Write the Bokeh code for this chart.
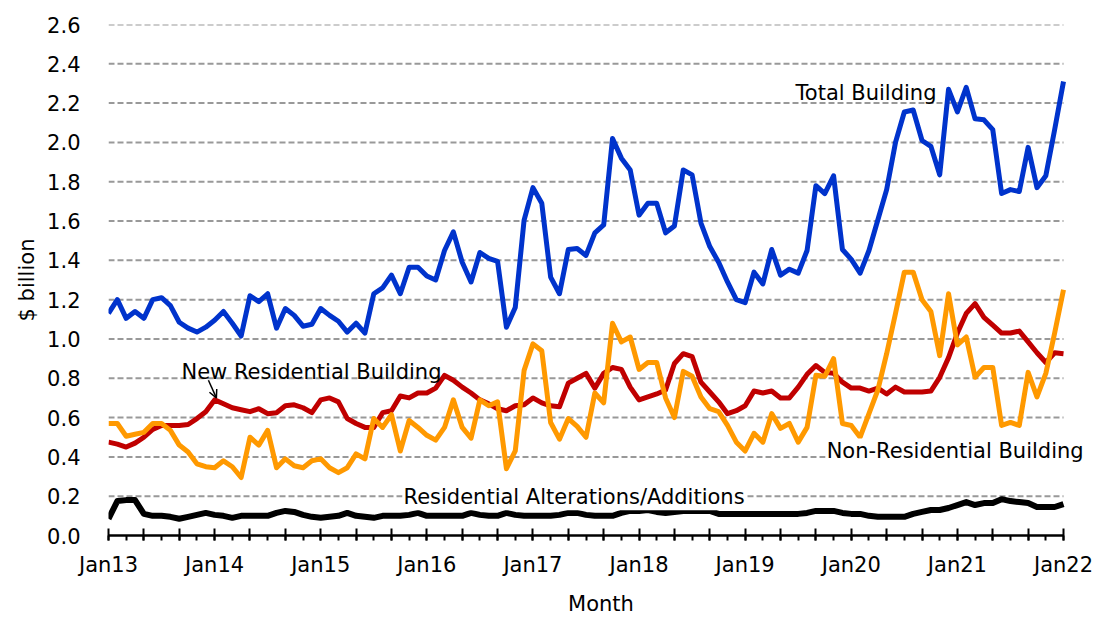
from bokeh.plotting import figure
from bokeh.models import Range1d, FixedTicker, Label, Arrow, OpenHead, ColumnDataSource
from bokeh.embed import file_html
from bokeh.resources import INLINE

# ---------------- data ($ billion, monthly Jan13 .. Jan22) ----------------
tick_labels = ["Jan13", "Jan14", "Jan15", "Jan16", "Jan17",
               "Jan18", "Jan19", "Jan20", "Jan21", "Jan22"]

total_building = [
    1.13, 1.20, 1.105, 1.14, 1.105, 1.20, 1.21, 1.17, 1.085, 1.055, 1.035, 1.06,
    1.095, 1.14, 1.08, 1.015, 1.22, 1.19, 1.23, 1.055, 1.155, 1.12, 1.065, 1.075,
    1.155, 1.12, 1.09, 1.035, 1.08, 1.03, 1.23, 1.26, 1.325, 1.23, 1.365, 1.365,
    1.32, 1.30, 1.45, 1.545, 1.39, 1.29, 1.44, 1.41, 1.395, 1.06, 1.16, 1.605,
    1.77, 1.69, 1.315, 1.23, 1.455, 1.46, 1.425, 1.54, 1.58, 2.02, 1.92, 1.86,
    1.63, 1.69, 1.69, 1.54, 1.575, 1.86, 1.835, 1.59, 1.47, 1.39, 1.29, 1.20,
    1.185, 1.34, 1.28, 1.455, 1.325, 1.355, 1.335, 1.45, 1.78, 1.74, 1.83, 1.455,
    1.405, 1.335, 1.45, 1.605, 1.76, 2.00, 2.155, 2.165, 2.01, 1.98, 1.835, 2.27,
    2.155, 2.28, 2.12, 2.115, 2.065, 1.74, 1.76, 1.75, 1.975, 1.77, 1.83, 2.065,
    2.31,
]

new_residential = [
    0.475, 0.465, 0.45, 0.47, 0.50, 0.54, 0.56, 0.56, 0.56, 0.565, 0.595, 0.63,
    0.69, 0.67, 0.65, 0.64, 0.63, 0.645, 0.62, 0.625, 0.66, 0.665, 0.65, 0.625,
    0.69, 0.70, 0.68, 0.595, 0.57, 0.55, 0.55, 0.625, 0.635, 0.71, 0.70, 0.725,
    0.725, 0.75, 0.815, 0.79, 0.755, 0.725, 0.69, 0.67, 0.645, 0.635, 0.66, 0.665,
    0.70, 0.675, 0.66, 0.655, 0.775, 0.80, 0.825, 0.75, 0.825, 0.855, 0.845, 0.755,
    0.69, 0.705, 0.72, 0.74, 0.875, 0.925, 0.91, 0.78, 0.73, 0.68, 0.62, 0.635,
    0.66, 0.735, 0.725, 0.735, 0.70, 0.70, 0.755, 0.82, 0.865, 0.83, 0.825, 0.78,
    0.75, 0.75, 0.735, 0.75, 0.72, 0.755, 0.73, 0.73, 0.73, 0.735, 0.805, 0.905,
    1.03, 1.13, 1.18, 1.11, 1.07, 1.03, 1.03, 1.04, 0.985, 0.93, 0.88, 0.93,
    0.925,
]

non_residential = [
    0.57, 0.57, 0.505, 0.515, 0.525, 0.57, 0.57, 0.535, 0.46, 0.425, 0.365, 0.35,
    0.345, 0.38, 0.35, 0.295, 0.50, 0.46, 0.535, 0.345, 0.39, 0.355, 0.345, 0.38,
    0.39, 0.345, 0.32, 0.345, 0.415, 0.39, 0.595, 0.55, 0.615, 0.43, 0.585, 0.55,
    0.51, 0.485, 0.55, 0.69, 0.55, 0.495, 0.69, 0.66, 0.68, 0.34, 0.43, 0.84,
    0.975, 0.94, 0.575, 0.49, 0.595, 0.555, 0.50, 0.725, 0.675, 1.08, 0.985, 1.01,
    0.845, 0.88, 0.88, 0.70, 0.60, 0.835, 0.81, 0.705, 0.645, 0.63, 0.56, 0.475,
    0.43, 0.52, 0.475, 0.62, 0.545, 0.57, 0.475, 0.55, 0.815, 0.81, 0.90, 0.57,
    0.56, 0.50, 0.62, 0.74, 0.925, 1.13, 1.34, 1.34, 1.20, 1.14, 0.915, 1.23,
    0.97, 1.01, 0.805, 0.855, 0.855, 0.56, 0.575, 0.56, 0.83, 0.705, 0.825, 1.03,
    1.25,
]

res_alterations = [
    0.085, 0.175, 0.18, 0.18, 0.11, 0.10, 0.10, 0.095, 0.085, 0.095, 0.105, 0.115,
    0.105, 0.10, 0.09, 0.10, 0.10, 0.10, 0.10, 0.115, 0.125, 0.12, 0.105, 0.095,
    0.09, 0.095, 0.10, 0.115, 0.10, 0.095, 0.09, 0.10, 0.10, 0.10, 0.105, 0.115,
    0.10, 0.10, 0.10, 0.10, 0.10, 0.115, 0.105, 0.10, 0.10, 0.115, 0.105, 0.10,
    0.10, 0.10, 0.10, 0.105, 0.115, 0.115, 0.105, 0.10, 0.10, 0.10, 0.115, 0.125,
    0.125, 0.13, 0.12, 0.115, 0.12, 0.125, 0.125, 0.125, 0.125, 0.11, 0.11, 0.11,
    0.11, 0.11, 0.11, 0.11, 0.11, 0.11, 0.11, 0.115, 0.125, 0.125, 0.125, 0.115,
    0.11, 0.11, 0.10, 0.095, 0.095, 0.095, 0.095, 0.11, 0.12, 0.13, 0.13, 0.14,
    0.155, 0.17, 0.155, 0.165, 0.165, 0.185, 0.175, 0.17, 0.165, 0.145, 0.145, 0.145,
    0.16,
]

months = list(range(len(total_building)))
y_ticks = [round(0.2 * k, 1) for k in range(14)]

FONT = "DejaVu Sans"
FS = "21px"

src = ColumnDataSource(dict(month=months, total=total_building, newres=new_residential,
                            nonres=non_residential, alter=res_alterations))

# frame: Jan13 at 108 px, Jan22 at 1063 px; frame extended to 1093 px for the label
PX_PER_MONTH = 955 / (months[-1] - months[0])
x_end = months[-1] + 30 / PX_PER_MONTH

p = figure(width=1098, height=618, output_backend="svg", toolbar_location=None,
           x_range=Range1d(months[0], x_end), y_range=Range1d(0, y_ticks[-1]),
           min_border_left=108, min_border_right=5, min_border_top=24, min_border_bottom=83)
p.outline_line_color = None
p.background_fill_color = "white"
p.border_fill_color = "white"

# horizontal dashed grid limited to the data span
p.xgrid.visible = False
p.ygrid.visible = False
gy = y_ticks[1:]
p.segment(x0=[months[0]] * len(gy), x1=[months[-1]] * len(gy), y0=gy, y1=gy,
          line_color="#999999", line_width=2, line_dash="6 3")

# x axis
major = list(range(0, len(months), 4))
minor = list(range(0, len(months), 2))
p.xaxis.ticker = FixedTicker(ticks=major, minor_ticks=minor)
p.xaxis.bounds = (months[0], months[-1])
overrides = {m: "" for m in major}
for k, lab in enumerate(tick_labels):
    overrides[12 * k] = lab
p.xaxis.major_label_overrides = overrides
p.xaxis.axis_line_color = "black"
p.xaxis.axis_line_width = 2.5
p.xaxis.major_tick_line_width = 2
p.xaxis.major_tick_in = 7
p.xaxis.major_tick_out = 5
p.xaxis.minor_tick_line_width = 2
p.xaxis.minor_tick_in = 0
p.xaxis.minor_tick_out = 5
p.xaxis.major_label_standoff = 12
p.xaxis.major_label_text_font = FONT
p.xaxis.major_label_text_font_size = FS
p.xaxis.major_label_text_color = "black"
p.xaxis.axis_label = "Month"
p.xaxis.axis_label_standoff = 12
p.xaxis.axis_label_text_font = FONT
p.xaxis.axis_label_text_font_size = FS
p.xaxis.axis_label_text_font_style = "normal"
p.xaxis.axis_label_text_color = "black"

# y axis
p.yaxis.ticker = FixedTicker(ticks=y_ticks)
p.yaxis.major_label_overrides = {t: f"{t:.1f}" for t in y_ticks}
p.yaxis.axis_line_color = None
p.yaxis.major_tick_line_color = None
p.yaxis.minor_tick_line_color = None
p.yaxis.major_label_standoff = 22
p.yaxis.major_label_text_font = FONT
p.yaxis.major_label_text_font_size = FS
p.yaxis.major_label_text_color = "black"
p.yaxis.axis_label = "$ billion"
p.yaxis.axis_label_standoff = 5
p.yaxis.axis_label_text_font = FONT
p.yaxis.axis_label_text_font_size = FS
p.yaxis.axis_label_text_font_style = "normal"
p.yaxis.axis_label_text_color = "black"

# lines
p.line("month", "alter", source=src, line_color="black", line_width=6, line_join="round")
p.line("month", "newres", source=src, line_color="#C00000", line_width=5, line_join="round")
p.line("month", "nonres", source=src, line_color="#FF9900", line_width=5, line_join="round")
p.line("month", "total", source=src, line_color="#0033CC", line_width=5, line_join="round")

# annotations
def lab(text, x, y, bg=None):
    kw = dict(x=x, y=y, text=text, text_font=FONT, text_font_size=FS,
              text_color="black", text_baseline="alphabetic", text_align="left")
    if bg:
        kw.update(background_fill_color=bg, padding=1)
    p.add_layout(Label(**kw))

lab("Total Building", 77.7, 2.252)
lab("New Residential Building", 8.25, 0.83)
lab("Non-Residential Building", 81.1, 0.428, bg="white")
lab("Residential Alterations/Additions", 33.25, 0.194, bg="white")

p.add_layout(Arrow(x_start=11.3, y_start=0.79, x_end=12.2, y_end=new_residential[12] + 0.01,
                   line_color="black", line_width=1.5,
                   end=OpenHead(size=8, line_color="black", line_width=1.5)))

open("out.html", "w").write(file_html(p, INLINE))
